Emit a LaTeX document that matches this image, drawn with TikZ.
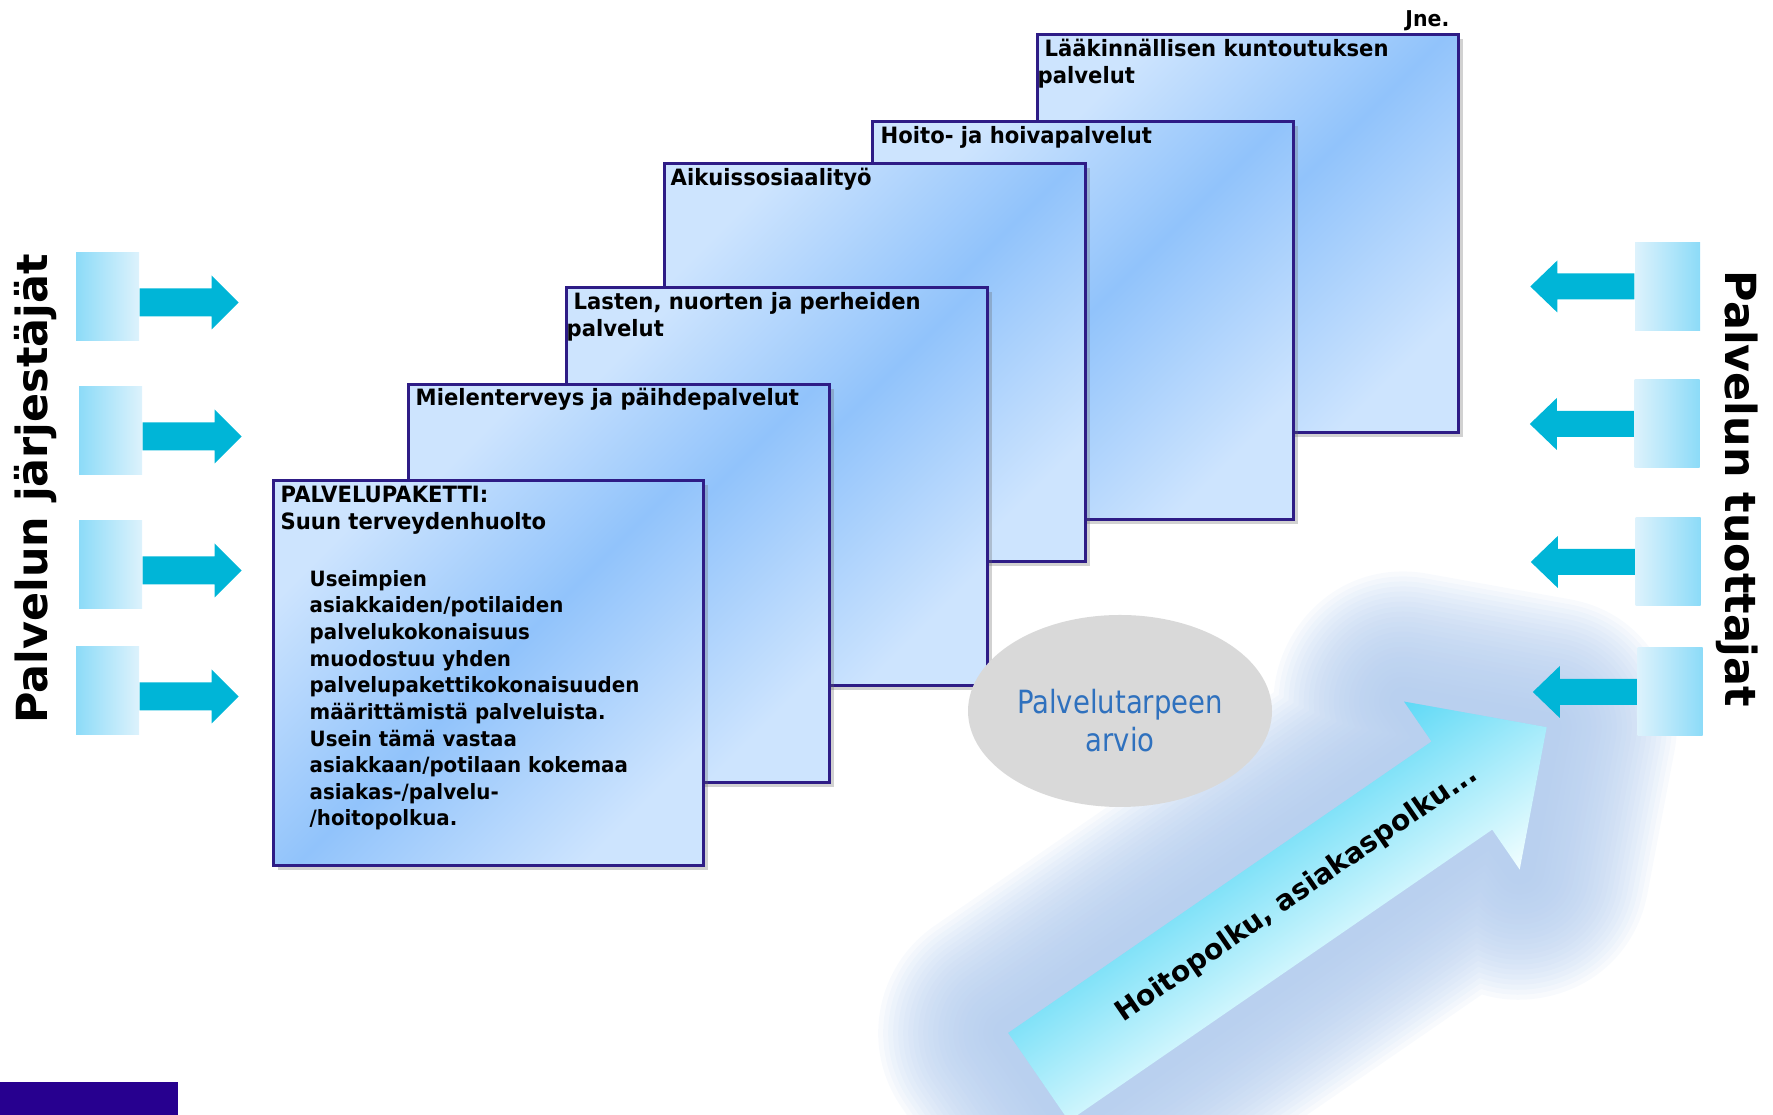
\documentclass[tikz,border=0pt]{standalone}
\usepackage{fontspec}
\setmainfont{DejaVu Sans}
\newfontfamily\boxfont{DejaVu Sans}[FakeStretch=0.94]
\newfontfamily\arviofont{DejaVu Sans}[FakeStretch=0.86]
\usetikzlibrary{shapes.geometric,shadows,positioning}

\definecolor{boxblue}{HTML}{91C3FB}
\definecolor{boxlight}{HTML}{CDE4FE}
\definecolor{boxline}{HTML}{2E1C86}
\definecolor{tilecyan}{HTML}{8CDBF8}
\definecolor{tilelight}{HTML}{DDF2FC}
\definecolor{arrowcyan}{HTML}{00B5D7}
\definecolor{pathcyan}{HTML}{5ED9F6}
\definecolor{pathlight}{HTML}{F2FEFF}
\definecolor{glowblue}{HTML}{B0CAED}
\definecolor{arviogray}{HTML}{D9D9D9}
\definecolor{arvioblue}{HTML}{2F71BE}
\definecolor{logoblue}{HTML}{27008F}

\tikzset{
  palvelubox/.style={draw=boxline, line width=0.75pt, rectangle, inner sep=0pt,
    anchor=north west, minimum width=4.21cm, minimum height=3.98cm,
    top color=boxlight, bottom color=boxlight, middle color=boxblue, shading angle=45,
    drop shadow={shadow xshift=0.5mm, shadow yshift=-0.5mm, opacity=0.3, fill=black!60}},
  boxtitle/.style={anchor=base west, inner sep=0pt, align=left,
    font=\boxfont\bfseries\fontsize{6.4}{7.7}\selectfont},
  boxbody/.style={anchor=base west, inner sep=0pt, align=left,
    font=\boxfont\bfseries\fontsize{6}{7.58}\selectfont},
  lefttile/.style={rectangle, inner sep=0pt, minimum width=0.63cm, minimum height=0.88cm,
    left color=tilecyan, right color=tilelight},
  righttile/.style={rectangle, inner sep=0pt, minimum width=0.65cm, minimum height=0.88cm,
    left color=tilelight, right color=tilecyan},
  sidetitle/.style={inner sep=0pt, font=\bfseries\fontsize{12.2}{14}\selectfont},
  arviotext/.style={inner sep=0pt, align=center, text=arvioblue,
    font=\arviofont\fontsize{9.1}{10.8}\selectfont},
  pathtext/.style={inner sep=0pt, font=\bfseries\fontsize{8}{9}\selectfont}
}

\begin{document}
\begin{tikzpicture}
    \useasboundingbox (0,0) rectangle (17.73,11.15);

    % hoitopolku arrow with its glow, drawn along its own axis
    \begin{scope}[transform canvas={shift={(10.385,0.38)}, rotate=34.54}]
        \coordinate (tu) at (0,0.535);
        \coordinate (nu) at (5.14,0.535);
        \coordinate (ub) at (5.14,1.02);
        \coordinate (tip) at (6.17,0);
        \coordinate (lb) at (5.14,-1.02);
        \coordinate (nl) at (5.14,-0.535);
        \coordinate (tl) at (0,-0.535);
        \foreach \w in {2.6,2.5,...,0.2}
            \draw[glowblue, line width=\w cm, line join=round, opacity=0.085, yshift=-0.15cm]
                (tu) -- (nu) -- (ub) -- (tip) -- (lb) -- (nl) -- (tl) -- cycle;
        \fill[glowblue] (tu) -- (nu) -- (ub) -- (tip) -- (lb) -- (nl) -- (tl) -- cycle;
        \shade[top color=pathcyan, bottom color=pathlight]
            (tu) -- (nu) -- (ub) -- (tip) -- (lb) -- (nl) -- (tl) -- cycle;
    \end{scope}
    \node[pathtext, rotate=34.5] (polku) at (12.97,2.21) {Hoitopolku, asiakaspolku...};

    % palvelupaketit, back to front
    \node[palvelubox] (b6) at (10.36,10.82) {};
    \node[boxtitle] at ([shift={(0.01,-0.51)}]b6.north west)
        {\hspace*{0.07cm}Lääkinnällisen kuntoutuksen\\palvelut};
    \node[palvelubox] (b5) at (8.71,9.95) {};
    \node[boxtitle] at ([shift={(0.09,-0.24)}]b5.north west) {Hoito- ja hoivapalvelut};
    \node[palvelubox] (b4) at (6.63,9.53) {};
    \node[boxtitle] at ([shift={(0.07,-0.24)}]b4.north west) {Aikuissosiaalityö};
    \node[palvelubox] (b3) at (5.65,8.29) {};
    \node[boxtitle] at ([shift={(0.01,-0.51)}]b3.north west)
        {\hspace*{0.07cm}Lasten, nuorten ja perheiden\\palvelut};
    \node[palvelubox] (b2) at (4.07,7.32) {};
    \node[boxtitle] at ([shift={(0.08,-0.23)}]b2.north west) {Mielenterveys ja päihdepalvelut};
    \node[palvelubox, minimum width=4.30cm, minimum height=3.85cm] (b1) at (2.72,6.36) {};
    \node[boxtitle] at ([shift={(0.08,-0.51)}]b1.north west)
        {PALVELUPAKETTI:\\Suun terveydenhuolto};
    \node[boxbody] (b1text) at ([shift={(0.37,-3.47)}]b1.north west)
        {Useimpien\\asiakkaiden/potilaiden\\palvelukokonaisuus\\muodostuu yhden\\
         palvelupakettikokonaisuuden\\määrittämistä palveluista.\\Usein tämä vastaa\\
         asiakkaan/potilaan kokemaa\\asiakas-/palvelu-\\/hoitopolkua.};
    \node[boxtitle, anchor=base east, font=\boxfont\bfseries\fontsize{6.2}{7}\selectfont]
        (jne) at (14.50,10.88) {Jne.};

    % palvelutarpeen arvio
    \node[ellipse, fill=arviogray, inner sep=0pt, minimum width=3.04cm,
        minimum height=1.92cm] (arvio) at (11.20,4.04) {};
    \node[arviotext] at ([yshift=-0.1cm]arvio.center) {Palvelutarpeen\\arvio};

    % jarjestajat
    \node[lefttile] (sq1) at (1.075,8.185) {};
    \node[lefttile] (sq2) at (1.105,6.845) {};
    \node[lefttile] (sq3) at (1.105,5.505) {};
    \node[lefttile] (sq4) at (1.075,4.245) {};
    \foreach \t in {sq1,sq2,sq3,sq4}
        \fill[arrowcyan] ([yshift=-0.06cm]\t.east) ++(0,0.14) -- ++(0.72,0) -- ++(0,0.13)
            -- ++(0.27,-0.27) -- ++(-0.27,-0.27) -- ++(0,0.13) -- ++(-0.72,0) -- cycle;
    \node[sidetitle, rotate=90] (jarj) at (0.355,6.26) {Palvelun järjestäjät};

    % tuottajat
    \node[righttile] (rq1) at (16.675,8.285) {};
    \node[righttile] (rq2) at (16.67,6.91) {};
    \node[righttile] (rq3) at (16.68,5.53) {};
    \node[righttile] (rq4) at (16.70,4.23) {};
    \foreach \t in {rq1,rq2,rq3,rq4}
        \fill[arrowcyan] (\t.west) ++(0,0.13) -- ++(-0.77,0) -- ++(0,0.13)
            -- ++(-0.27,-0.26) -- ++(0.27,-0.26) -- ++(0,0.13) -- ++(0.77,0) -- cycle;
    \node[sidetitle, rotate=-90] (tuott) at (17.37,6.26) {Palvelun tuottajat};

    \fill[logoblue] (0,0) rectangle (1.78,0.33);
\end{tikzpicture}
\end{document}
